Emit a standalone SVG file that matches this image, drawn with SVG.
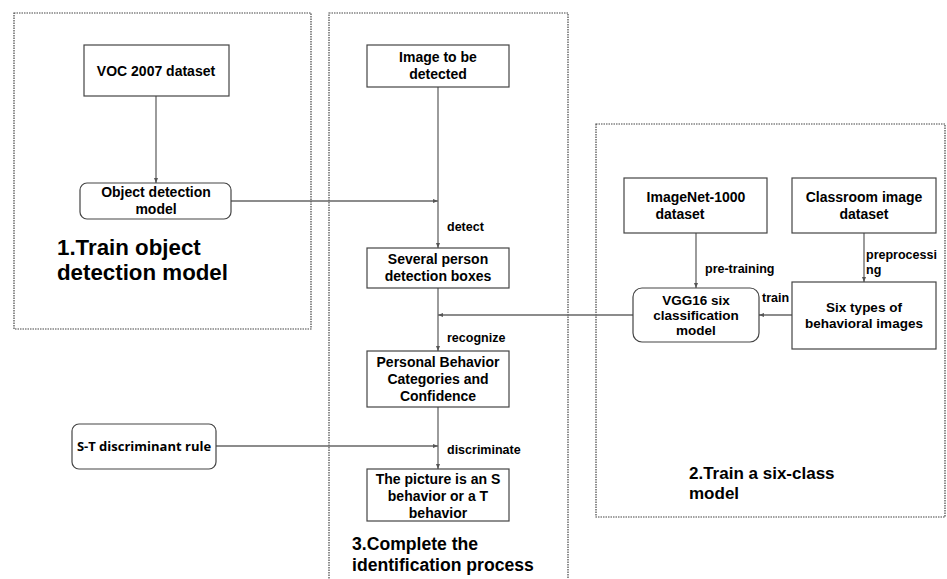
<svg xmlns="http://www.w3.org/2000/svg" width="947" height="579" viewBox="0 0 947 579">
<defs>
<marker id="ah" markerWidth="6" markerHeight="6" refX="5" refY="3" orient="auto" markerUnits="userSpaceOnUse">
<path d="M0,1 L5,3 L0,5 z" fill="#555"/>
</marker>
<style>
.frame{fill:none;stroke:#444;stroke-width:1.2;stroke-dasharray:1.5 1}
.box{fill:#fff;stroke:#444;stroke-width:1.2}
.t{font-family:"Liberation Sans",Arial,sans-serif;font-weight:bold;font-size:14px;fill:#000;text-anchor:middle}
.s{font-family:"Liberation Sans",Arial,sans-serif;font-weight:bold;font-size:13.5px;fill:#000;text-anchor:middle}
.o{font-family:"Open Sans","Liberation Sans",sans-serif;font-weight:bold;font-size:13px;fill:#000;text-anchor:middle}
.lbl{font-family:"Liberation Sans",Arial,sans-serif;font-weight:bold;font-size:12.5px;fill:#000}
.title{font-family:"Liberation Sans",Arial,sans-serif;font-weight:bold;fill:#000}
.c{fill:none;stroke:#666;stroke-width:1.3}
</style>
</defs>
<rect width="947" height="579" fill="#fff"/>
<rect class="frame" x="14" y="13" width="297" height="316"/>
<rect class="frame" x="329" y="13" width="239" height="580"/>
<rect class="frame" x="596" y="124" width="349" height="393"/>
<text class="title" font-size="22.3" x="57" y="255">1.Train object</text>
<text class="title" font-size="22.3" x="57" y="280">detection model</text>
<text class="title" font-size="17.6" x="352" y="550">3.Complete the</text>
<text class="title" font-size="17.6" x="352" y="571">identification process</text>
<text class="title" font-size="17" x="689" y="479">2.Train a six-class</text>
<text class="title" font-size="17" x="689" y="499">model</text>
<g id="connectors">
<line class="c" x1="156" y1="96" x2="156" y2="183" marker-end="url(#ah)"/>
<line class="c" x1="231" y1="201" x2="438" y2="201" marker-end="url(#ah)"/>
<line class="c" x1="438" y1="87" x2="438" y2="248" marker-end="url(#ah)"/>
<line class="c" x1="438" y1="288" x2="438" y2="351" marker-end="url(#ah)"/>
<line class="c" x1="633" y1="315" x2="438" y2="315" marker-end="url(#ah)"/>
<line class="c" x1="438" y1="407" x2="438" y2="469" marker-end="url(#ah)"/>
<line class="c" x1="216" y1="446" x2="438" y2="446" marker-end="url(#ah)"/>
<line class="c" x1="696" y1="233" x2="696" y2="288" marker-end="url(#ah)"/>
<line class="c" x1="864" y1="233" x2="864" y2="282" marker-end="url(#ah)"/>
<line class="c" x1="792" y1="315" x2="759" y2="315" marker-end="url(#ah)"/>
<text class="lbl" x="447" y="231">detect</text>
<text class="lbl" x="447" y="342">recognize</text>
<text class="lbl" x="447" y="454">discriminate</text>
<text class="lbl" x="705" y="273">pre-training</text>
<text class="lbl" x="866" y="259">preprocessi</text>
<text class="lbl" x="866" y="274">ng</text>
<text class="lbl" x="762" y="302">train</text>
</g>
<g id="voc">
<rect class="box" x="84" y="45" width="145" height="51"/>
<text class="t" x="156" y="76">VOC 2007 dataset</text>
</g>
<g id="objdet">
<rect class="box" x="80" y="183" width="151" height="36" rx="7"/>
<text class="t" x="156" y="197">Object detection</text>
<text class="t" x="156" y="214">model</text>
</g>
<g id="image">
<rect class="box" x="367" y="45" width="142" height="42"/>
<text class="t" x="438" y="62">Image to be</text>
<text class="t" x="438" y="79">detected</text>
</g>
<g id="several">
<rect class="box" x="367" y="248" width="142" height="40"/>
<text class="t" x="438" y="264">Several person</text>
<text class="t" x="438" y="281">detection boxes</text>
</g>
<g id="personal">
<rect class="box" x="367" y="351" width="142" height="56"/>
<text class="t" x="438" y="367">Personal Behavior</text>
<text class="t" x="438" y="384">Categories and</text>
<text class="t" x="438" y="401">Confidence</text>
</g>
<g id="picture">
<rect class="box" x="367" y="469" width="142" height="52"/>
<text class="t" x="438" y="484">The picture is an S</text>
<text class="t" x="438" y="501">behavior or a T</text>
<text class="t" x="438" y="518">behavior</text>
</g>
<g id="strule">
<rect class="box" x="72" y="424" width="144" height="45" rx="7"/>
<text class="o" x="144" y="451">S-T discriminant rule</text>
</g>
<g id="imagenet">
<rect class="box" x="624" y="178" width="143" height="55"/>
<text class="t" x="696" y="202">ImageNet-1000</text>
<text class="t" x="680" y="219">dataset</text>
</g>
<g id="classroom">
<rect class="box" x="792" y="178" width="144" height="55"/>
<text class="t" x="864" y="202">Classroom image</text>
<text class="t" x="864" y="219">dataset</text>
</g>
<g id="vgg">
<rect class="box" x="633" y="288" width="126" height="54" rx="9"/>
<text class="s" x="696" y="305">VGG16 six</text>
<text class="s" x="696" y="320">classification</text>
<text class="s" x="696" y="335">model</text>
</g>
<g id="sixtypes">
<rect class="box" x="792" y="282" width="144" height="67"/>
<text class="s" x="864" y="312">Six types of</text>
<text class="s" x="864" y="328">behavioral images</text>
</g>
</svg>
